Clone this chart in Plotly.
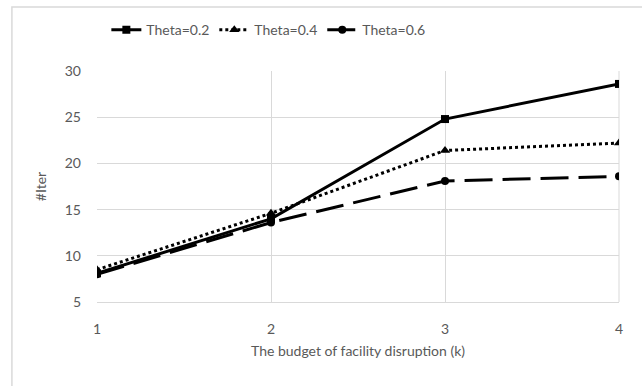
import plotly.graph_objects as go

# Budget of facility disruption (k)
budget = [1, 2, 3, 4]

# Number of iterations for each theta setting
iter_theta_02 = [8.1, 14.0, 24.8, 28.6]
iter_theta_04 = [8.5, 14.6, 21.4, 22.2]
iter_theta_06 = [8.0, 13.6, 18.1, 18.6]

y_ticks = [5, 10, 15, 20, 25, 30]

font_family = "Lato, 'Open Sans', sans-serif"
grey_text = "#595959"
grid_grey = "#d9d9d9"

fig = go.Figure()

fig.add_trace(go.Scatter(
    x=budget, y=iter_theta_02, name="Theta=0.2", mode="lines+markers",
    line=dict(color="black", width=3, dash="solid"),
    marker=dict(symbol="square", size=8, color="black"),
))
fig.add_trace(go.Scatter(
    x=budget, y=iter_theta_04, name="Theta=0.4", mode="lines+markers",
    line=dict(color="black", width=3, dash="dot"),
    marker=dict(symbol="triangle-up", size=9, color="black"),
))
fig.add_trace(go.Scatter(
    x=budget, y=iter_theta_06, name="Theta=0.6", mode="lines+markers",
    line=dict(color="black", width=3, dash="28px,10px"),
    marker=dict(symbol="circle", size=8, color="black"),
))

fig.update_layout(
    width=642, height=386,
    margin=dict(l=97, r=23, t=71, b=84, autoexpand=False),
    paper_bgcolor="white", plot_bgcolor="white",
    font=dict(family=font_family, size=14, color=grey_text),
    showlegend=True,
    legend=dict(
        orientation="h", x=0.418, y=0.922, xref="container", yref="container",
        xanchor="center", yanchor="middle",
        font=dict(size=14, color=grey_text), bgcolor="rgba(0,0,0,0)",
        itemwidth=30, tracegroupgap=0,
    ),
    xaxis=dict(
        range=[1, 4], tickvals=budget, ticktext=[str(b) for b in budget],
        showgrid=True, gridcolor=grid_grey, gridwidth=1,
        showline=True, linecolor=grid_grey, mirror=False,
        zeroline=False, ticks="", ticklen=0, ticklabelstandoff=14,
        tickfont=dict(size=14, color=grey_text),
        title=dict(text="The budget of facility disruption (k)",
                   font=dict(size=14, color=grey_text), standoff=10),
    ),
    yaxis=dict(
        range=[5, 30], tickvals=y_ticks,
        showgrid=True, gridcolor=grid_grey, gridwidth=1,
        showline=False, zeroline=False, ticks="", ticklabelstandoff=15,
        tickfont=dict(size=14, color=grey_text),
        title=dict(text="#Iter", font=dict(size=14, color=grey_text), standoff=14),
    ),
    shapes=[
        # right edge of the plot area
        dict(type="line", xref="paper", yref="paper", x0=1, x1=1, y0=0, y1=1,
             line=dict(color=grid_grey, width=1), layer="below"),
        # outer chart frame (left and top edges fall inside the page)
        dict(type="rect", xref="paper", yref="paper",
             x0=-0.163, x1=1.2, y0=-0.6, y1=1.277,
             line=dict(color=grid_grey, width=1.5), layer="below"),
    ],
)

fig.write_html("out.html")
